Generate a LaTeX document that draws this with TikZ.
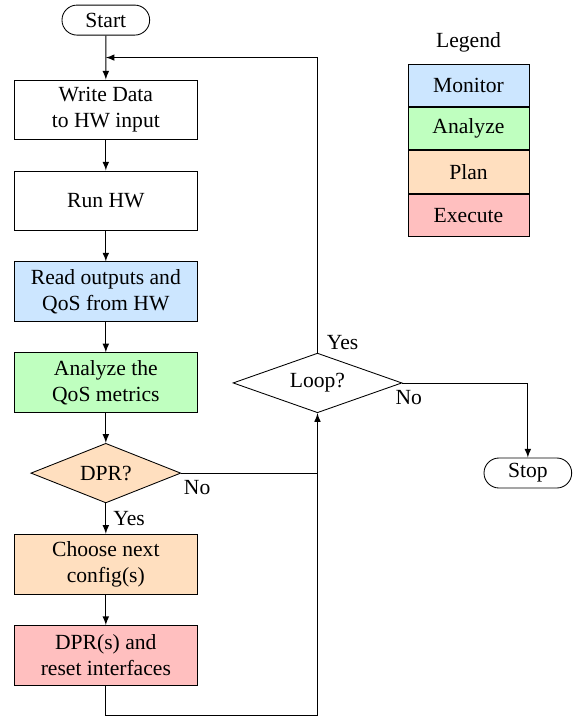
\documentclass[tikz,border=0pt]{standalone}
\usepackage{fontspec}
\setmainfont{Liberation Serif}
\usetikzlibrary{shapes,arrows,positioning}
\definecolor{moncol}{RGB}{204,230,255}
\definecolor{anacol}{RGB}{191,255,191}
\definecolor{plancol}{RGB}{255,223,191}
\definecolor{execol}{RGB}{255,191,191}

\begin{document}
\begin{tikzpicture}[x=1pt,y=1pt]
 \tikzset{main node/.style={rectangle, draw, align=center,
 		minimum width=84.7pt, minimum height=27.6pt}, }
 \tikzset{term node/.style={rounded rectangle, draw,
 		minimum width=42.6pt, minimum height=13.9pt, inner sep=1pt}, }
 \tikzset{choice node/.style={diamond, draw, inner sep=0pt, aspect=3,
 		minimum height=27.6pt}, }
 \tikzset{legend node/.style={rectangle, draw,
 		minimum width=56pt, minimum height=19.7pt}, }
 \tikzset{linea/.style={-latex},}
 \useasboundingbox (0,0) rectangle (268,-332.9);
 \node[term node] (start) at (49,-9.3) {Start};
 \node[main node] (write) [below=20.4pt of start] {Write Data\\to HW input};
 \node[main node] (run) [below=14.1pt of write] {Run HW};
 \node[main node, fill=moncol] (read) [below=14.1pt of run] {Read outputs and\\QoS from HW};
 \node[main node, fill=anacol] (ana) [below=14.1pt of read] {Analyze the\\QoS metrics};
 \node[choice node, fill=plancol, minimum width=69.4pt] (dpr) [below=13.9pt of ana] {DPR?};
 \node[main node, fill=plancol] (choose) [below=14.1pt of dpr] {Choose next\\config(s)};
 \node[main node, fill=execol] (exec) [below=14.1pt of choose] {DPR(s) and\\reset interfaces};
 \node[choice node, minimum width=78.2pt] (loop) at (147,-177.3) {Loop?};
 \node[term node] (stop) at (244.4,-219) {Stop};
 % legend
 \node (legend) at (216.9,-19.4) {Legend};
 \node[legend node, fill=moncol] (mon) at (216.9,-39.45) {Monitor};
 \node[legend node, fill=anacol] (anal) [below=0pt of mon] {Analyze};
 \node[legend node, fill=plancol] (plan) [below=0pt of anal] {Plan};
 \node[legend node, fill=execol] (exe) [below=0pt of plan] {Execute};
 % connectors
 \path (start.south) -- (write.north) coordinate[midway] (join);
 \foreach \x /\y in{start/write,write/run,run/read,read/ana,ana/dpr,choose/exec}
 \path[linea] (\x) edge node {} (\y);
 \draw[linea] (dpr) -- node[right] {Yes} (choose);
 \draw (dpr.east) node[below, xshift=7.4pt] {No} -- (loop.south |- dpr.east);
 \draw[linea] (exec.south) -- ++(0,-13.8) -| (loop.south);
 \draw[linea] (loop.north) node[above, xshift=11.6pt, yshift=-2pt] {Yes} |- (join);
 \draw[linea] (loop.east) node[below, xshift=3pt] {No} -| (stop.north);
 % 
\end{tikzpicture}
\end{document}
